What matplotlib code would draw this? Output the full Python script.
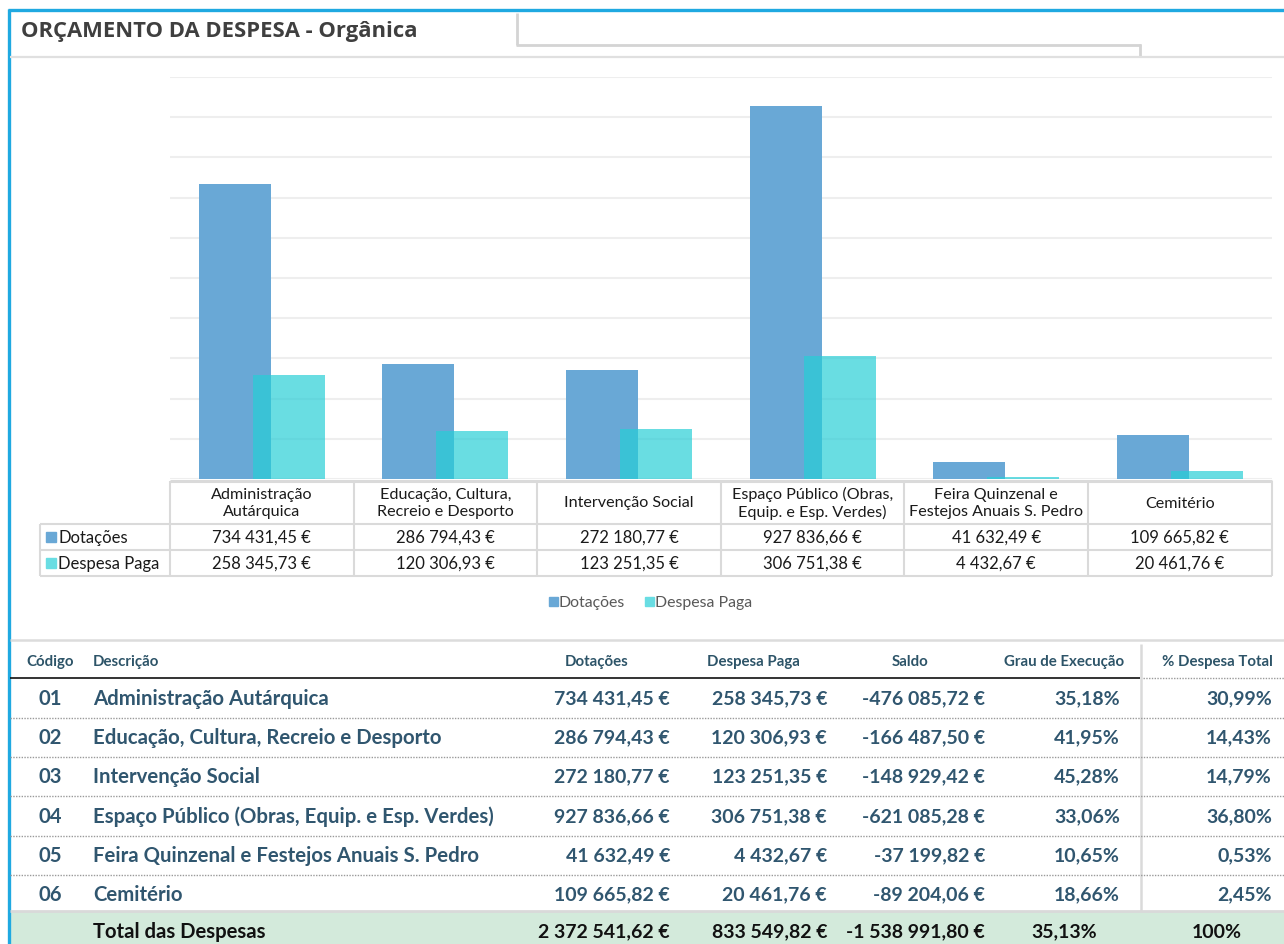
import numpy as np
import matplotlib
matplotlib.use("Agg")
import matplotlib.pyplot as plt
from matplotlib.patches import Rectangle

# data
codigos = ["01", "02", "03", "04", "05", "06"]
descricoes = ["Administração Autárquica",
              "Educação, Cultura, Recreio e Desporto",
              "Intervenção Social",
              "Espaço Público (Obras, Equip. e Esp. Verdes)",
              "Feira Quinzenal e Festejos Anuais S. Pedro",
              "Cemitério"]
cat_labels = ["Administração\nAutárquica",
              "Educação, Cultura,\nRecreio e Desporto",
              "Intervenção Social",
              "Espaço Público (Obras,\nEquip. e Esp. Verdes)",
              "Feira Quinzenal e\nFestejos Anuais S. Pedro",
              "Cemitério"]
dotacoes = [734431.45, 286794.43, 272180.77, 927836.66, 41632.49, 109665.82]
despesa_paga = [258345.73, 120306.93, 123251.35, 306751.38, 4432.67, 20461.76]
saldo = [-476085.72, -166487.50, -148929.42, -621085.28, -37199.82, -89204.06]
grau_exec = [35.18, 41.95, 45.28, 33.06, 10.65, 18.66]
pct_total = [30.99, 14.43, 14.79, 36.80, 0.53, 2.45]
totais = [2372541.62, 833549.82, -1538991.80]
grau_total = 35.13

C_DOT = "#69A8D6"
C_PAGA = "#26CED6"
C_ROW = "#30566F"
C_GRID = "#DADADA"


def eur(v):
    return f"{v:,.2f}".replace(",", " ").replace(".", ",") + " €"


def pct(v):
    return f"{v:.2f}".replace(".", ",") + "%"


W, H = 1284, 945
fig = plt.figure(figsize=(W / 100, H / 100), dpi=100)
fig.patch.set_facecolor("white")

# bar chart axes (pixel box 170..1272 x 78..480)
x0, x1, y0, y1 = 170, 1271.6, 78, 480
ax = fig.add_axes([x0 / W, 1 - y1 / H, (x1 - x0) / W, (y1 - y0) / H])
x = np.arange(len(dotacoes))
ax.bar(x - 0.147, dotacoes, width=0.392, color=C_DOT, zorder=2)
ax.bar(x + 0.147, despesa_paga, width=0.392, color=C_PAGA, alpha=0.69, zorder=3)
ax.set_xlim(-0.5, len(dotacoes) - 0.5)
ax.set_ylim(0, 1000000)
ax.set_yticks(np.arange(0, 1000001, 100000))
ax.yaxis.grid(True, color="#EEEEEE", lw=1.5, zorder=0)
ax.tick_params(left=False, bottom=False, labelleft=False, labelbottom=False)
for s in ax.spines.values():
    s.set_visible(False)

# overlay in pixel coordinates
ov = fig.add_axes([0, 0, 1, 1])
ov.set_xlim(0, W)
ov.set_ylim(H, 0)
ov.axis("off")


def hline(y, xa, xb, c=C_GRID, lw=1.5, **kw):
    ov.plot([xa, xb], [y, y], color=c, lw=lw, solid_capstyle="butt", **kw)


def vline(xx, ya, yb, c=C_GRID, lw=1.5, **kw):
    ov.plot([xx, xx], [ya, yb], color=c, lw=lw, solid_capstyle="butt", **kw)


# frame and title
hline(11, 8, W, c="#1FA9E1", lw=2.4)
vline(9, 10, H, c="#1FA9E1", lw=2.4)
ov.text(21, 31, "ORÇAMENTO DA DESPESA - Orgânica", fontsize=15.8, fontweight="bold",
        family="Open Sans", color="#3F3F3F", va="center", ha="left")
vline(517, 14, 46, c="#D4D4D4", lw=2)
hline(46, 516, 1141, c="#D4D4D4", lw=2)
vline(1140, 45, 58, c="#D4D4D4", lw=2)
hline(58, 10, W, c="#E0E0E0", lw=1.6)

# chart data table
edges = np.linspace(x0, x1, len(dotacoes) + 1)
tf = dict(family="Lato", fontsize=12, color="#1A1A1A", va="center", ha="center")
ty = [482, 525, 551, 577]
hline(ty[0], x0, x1, lw=2.2)
for yy in ty[1:]:
    hline(yy, 40, x1)
for xx in edges:
    vline(xx, ty[0], ty[3])
vline(40, ty[1], ty[3])
for i in range(len(dotacoes)):
    cx = (edges[i] + edges[i + 1]) / 2
    ov.text(cx, 503.5, cat_labels[i], linespacing=1.2,
            **{**tf, "fontsize": 11.6})
    ov.text(cx, 538, eur(dotacoes[i]), **tf)
    ov.text(cx, 564, eur(despesa_paga[i]), **tf)
for yy, lab, col in [(538, "Dotações", C_DOT), (564, "Despesa Paga", "#69DDE3")]:
    ov.add_patch(Rectangle((46, yy - 5), 10, 10, color=col))
    ov.text(58, yy, lab, family="Lato", fontsize=12, color="#1A1A1A", va="center", ha="left")

# legend
for lx, lab, col in [(549, "Dotações", C_DOT), (645, "Despesa Paga", "#69DDE3")]:
    ov.add_patch(Rectangle((lx, 598), 9, 9, color=col))
    ov.text(lx + 10, 603, lab, family="Lato", fontsize=11.4, color="#595959", va="center", ha="left")

hline(641, 10, W, c="#DCDCDC", lw=1.8)

# summary table
hf = dict(family="Lato", fontsize=10.8, fontweight="bold", color="#2D5468", va="center")
ov.text(50, 662, "Código", ha="center", **hf)
ov.text(93, 662, "Descrição", ha="left", **hf)
ov.text(597, 662, "Dotações", ha="center", **hf)
ov.text(753, 662, "Despesa Paga", ha="center", **hf)
ov.text(910, 662, "Saldo", ha="center", **hf)
ov.text(1064, 662, "Grau de Execução", ha="center", **hf)
ov.text(1217, 662, "% Despesa Total", ha="center", **hf)
hline(679, 10, 1140, c="#111111", lw=1.2)
hline(679, 1143, W, c="#9A9A9A", lw=1, linestyle=(0, (1, 1)))
vline(1141, 645, 912, c="#DADADA", lw=1.8)

rf = dict(family="Lato", fontsize=14, fontweight="bold", color=C_ROW, va="center")
row_y = [699, 738, 777, 817, 856, 895]
for i, yy in enumerate(row_y):
    ov.text(50, yy, codigos[i], ha="center", **{**rf, "fontsize": 14.6})
    ov.text(93, yy, descricoes[i], ha="left", **{**rf, "fontsize": 14.7})
    ov.text(670, yy, eur(dotacoes[i]), ha="right", **rf)
    ov.text(827, yy, eur(despesa_paga[i]), ha="right", **rf)
    ov.text(985, yy, eur(saldo[i]), ha="right", **rf)
    ov.text(1120, yy, pct(grau_exec[i]), ha="right", **rf)
    ov.text(1272, yy, pct(pct_total[i]), ha="right", **rf)
    if i < len(row_y) - 1:
        hline(yy + 19.5, 10, W, c="#9A9A9A", lw=1, linestyle=(0, (1, 1)))

# total row
ov.add_patch(Rectangle((10, 913), W - 10, H - 913, color="#D3EADB", zorder=1))
hline(912, 10, W, c="#D9D9D9", lw=2)
tt = dict(family="Lato", fontsize=14, fontweight="bold", color="#111111", va="center")
ov.text(93, 932, "Total das Despesas", ha="left", **{**tt, "fontsize": 14.6})
ov.text(670, 932, eur(totais[0]), ha="right", **tt)
ov.text(827, 932, eur(totais[1]), ha="right", **tt)
ov.text(985, 932, eur(totais[2]), ha="right", **tt)
ov.text(1064, 932, pct(grau_total), ha="center", **tt)
ov.text(1217, 932, "100%", ha="center", **tt)

fig.savefig("out.png", dpi=100)
